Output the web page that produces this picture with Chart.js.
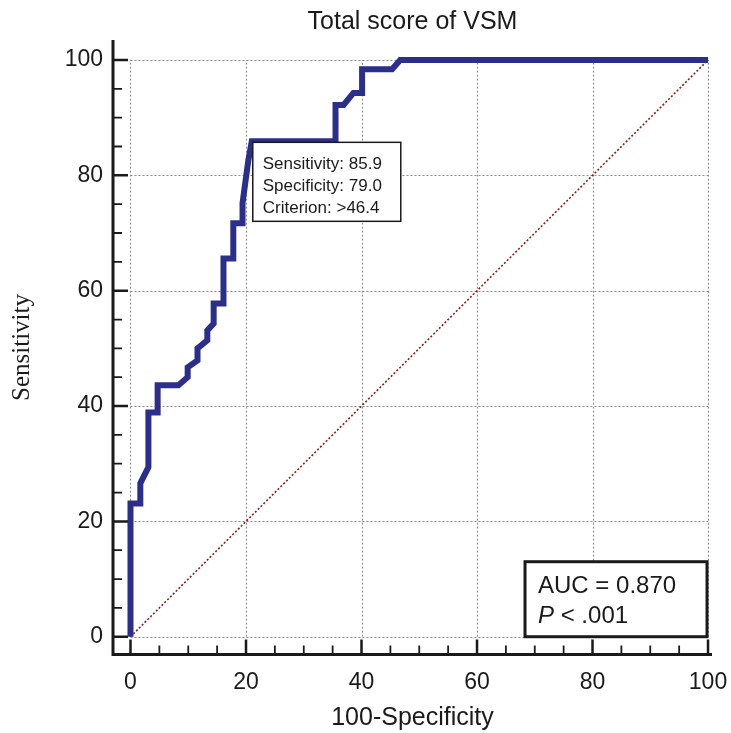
<!DOCTYPE html>
<html>
<head>
<meta charset="utf-8">
<title>Total score of VSM</title>
<script src="https://cdn.jsdelivr.net/npm/chart.js@4.4.0/dist/chart.umd.min.js"></script>
<style>
  html, body { margin: 0; padding: 0; background: #fff; }
</style>
</head>
<body>
<canvas id="roc" width="731" height="733"></canvas>
<script>
// ROC curve: x = 100-Specificity, y = Sensitivity
const fpr = [0, 0, 1.7, 1.7, 3.1, 3.1, 4.7, 4.7, 8.3, 9.9, 9.9, 11.6, 11.6, 13.3, 13.3, 14.4, 14.4,
             16.1, 16.1, 17.8, 17.8, 19.4, 19.4, 20.4, 21.0, 35.5, 35.5, 36.9, 38.6, 40.1, 40.1,
             45.3, 46.7, 100];
const tpr = [0, 23.1, 23.1, 26.6, 29.4, 38.9, 38.9, 43.6, 43.6, 45.0, 46.7, 47.9, 50.0, 51.4, 53.1, 54.3, 57.8,
             57.8, 65.6, 65.6, 71.7, 71.7, 75.2, 82.6, 85.9, 85.9, 92.2, 92.2, 94.3, 94.3, 98.4,
             98.4, 100, 100];

// reference (chance) line
const refX = [0, 100];
const refY = [0, 100];

const majorTicks = [0, 20, 40, 60, 80, 100];
const minorTicks = [5, 10, 15, 25, 30, 35, 45, 50, 55, 65, 70, 75, 85, 90, 95];

const cutoffX = 21.0;
const cutoffY = 85.9;
const cutoffText = ["Sensitivity: 85.9", "Specificity: 79.0", "Criterion: >46.4"];
const aucText = "AUC = 0.870";
const pText = " < .001";

const SANS = "'Liberation Sans', Arial, sans-serif";
const SERIF = "'Liberation Serif', 'Times New Roman', serif";
const INK = "#1a1a1a";

const rocAxes = {
  id: "rocAxes",
  beforeDatasetsDraw(chart) {
    const { ctx, scales: { x, y } } = chart;
    ctx.save();
    ctx.strokeStyle = "#8c8c8c";
    ctx.lineWidth = 1;
    ctx.setLineDash([2, 2]);
    majorTicks.forEach(v => {
      const px = Math.round(x.getPixelForValue(v)) + 0.5;
      ctx.beginPath();
      ctx.moveTo(px, y.getPixelForValue(0));
      ctx.lineTo(px, y.getPixelForValue(100));
      ctx.stroke();
      const py = Math.round(y.getPixelForValue(v)) + 0.5;
      ctx.beginPath();
      ctx.moveTo(x.getPixelForValue(0), py);
      ctx.lineTo(x.getPixelForValue(100), py);
      ctx.stroke();
    });
    ctx.restore();
  },
  afterDatasetsDraw(chart) {
    const { ctx, chartArea: a, scales: { x, y } } = chart;
    const ax = a.left;
    const ay = a.bottom - 0.5;
    ctx.save();
    ctx.strokeStyle = INK;

    // axis lines
    ctx.lineWidth = 3;
    ctx.beginPath();
    ctx.moveTo(ax, a.top);
    ctx.lineTo(ax, ay + 1.5);
    ctx.moveTo(ax - 1.5, ay);
    ctx.lineTo(a.right, ay);
    ctx.stroke();

    // ticks point inward
    const tick = (vals, len, w) => {
      ctx.lineWidth = w;
      ctx.beginPath();
      vals.forEach(v => {
        const px = x.getPixelForValue(v);
        ctx.moveTo(px, ay);
        ctx.lineTo(px, ay - len);
        const py = y.getPixelForValue(v);
        ctx.moveTo(ax, py);
        ctx.lineTo(ax + len, py);
      });
      ctx.stroke();
    };
    tick(majorTicks, 15, 2.5);
    tick(minorTicks, 9, 1.8);

    // cut-off label box
    const bx = x.getPixelForValue(cutoffX) + 1;
    const by = y.getPixelForValue(cutoffY) + 1;
    ctx.fillStyle = "#fff";
    ctx.fillRect(bx, by, 148, 79);
    ctx.lineWidth = 1.5;
    ctx.strokeRect(bx, by, 148, 79);
    ctx.fillStyle = INK;
    ctx.font = "17px " + SANS;
    ctx.textBaseline = "alphabetic";
    cutoffText.forEach((t, i) => ctx.fillText(t, bx + 10, by + 26.5 + i * 22));

    // AUC box in the lower right corner
    const rx = x.getPixelForValue(100) - 1;
    const ry = y.getPixelForValue(0);
    const w = 182, h = 75;
    ctx.fillStyle = "#fff";
    ctx.fillRect(rx - w, ry - h, w, h);
    ctx.lineWidth = 3;
    ctx.strokeRect(rx - w, ry - h, w, h);
    ctx.fillStyle = INK;
    ctx.font = "24px " + SANS;
    ctx.fillText(aucText, rx - w + 13, ry - h + 31);
    ctx.font = "italic 24px " + SANS;
    ctx.fillText("P", rx - w + 13, ry - h + 61);
    const pw = ctx.measureText("P").width;
    ctx.font = "24px " + SANS;
    ctx.fillText(pText, rx - w + 13 + pw, ry - h + 61);
    ctx.restore();
  }
};

const ctx = document.getElementById("roc").getContext("2d");
new Chart(ctx, {
  type: "scatter",
  data: {
    datasets: [{
      label: "Total score of VSM",
      data: fpr.map((v, i) => ({ x: v, y: tpr[i] })),
      showLine: true,
      borderColor: "#2c2e8c",
      borderWidth: 6,
      borderJoinStyle: "miter",
      borderCapStyle: "butt",
      pointRadius: 0,
      tension: 0
    }, {
      label: "Reference",
      data: refX.map((v, i) => ({ x: v, y: refY[i] })),
      showLine: true,
      borderColor: "#8b1a1a",
      borderWidth: 1.6,
      borderDash: [2, 2],
      pointRadius: 0
    }]
  },
  options: {
    responsive: false,
    animation: false,
    layout: { padding: 0 },
    plugins: {
      legend: { display: false },
      tooltip: { enabled: false },
      title: {
        display: true,
        fullSize: false,
        text: "Total score of VSM",
        color: INK,
        font: { family: SANS, size: 25, weight: "normal" },
        padding: { top: 7, bottom: 3 }
      }
    },
    scales: {
      x: {
        type: "linear",
        min: -3.03,
        max: 100.69,
        grid: { display: false, drawTicks: false },
        border: { display: false },
        afterBuildTicks: s => { s.ticks = majorTicks.map(v => ({ value: v })); },
        afterFit: s => { s.height = 78; s.paddingLeft = 0; s.paddingRight = 19; },
        ticks: { padding: 14, color: INK, autoSkip: false, maxRotation: 0,
                 font: { family: SANS, size: 23 } },
        title: { display: true, text: "100-Specificity", color: INK,
                 font: { family: SANS, size: 25 }, padding: { top: 0, bottom: 0 } }
      },
      y: {
        type: "linear",
        min: -3.17,
        max: 103.47,
        grid: { display: false, drawTicks: false },
        border: { display: false },
        afterBuildTicks: s => { s.ticks = majorTicks.map(v => ({ value: v })); },
        afterFit: s => { s.width = 113; s.paddingTop = 0; s.paddingBottom = 0; },
        ticks: { padding: 10, color: INK, autoSkip: false,
                 font: { family: SANS, size: 23 } },
        title: { display: true, text: "Sensitivity", color: INK,
                 font: { family: SERIF, size: 25 }, padding: { top: 7.5, bottom: 0 } }
      }
    }
  },
  plugins: [rocAxes]
});
</script>
</body>
</html>
